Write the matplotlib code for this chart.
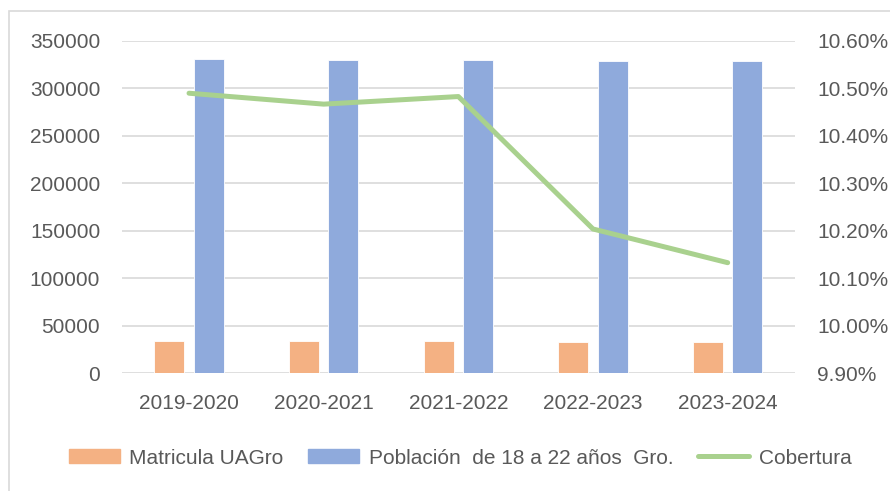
import matplotlib
matplotlib.use("Agg")
import matplotlib.pyplot as plt
import matplotlib.patches as mpatches
from matplotlib.ticker import FuncFormatter, MultipleLocator
import numpy as np

categories = ["2019-2020", "2020-2021", "2021-2022", "2022-2023", "2023-2024"]
matricula = [34000, 34000, 33700, 33000, 32700]
poblacion = [331000, 330000, 329500, 329000, 329000]
cobertura = [10.490, 10.467, 10.483, 10.204, 10.133]

label_mat = "Matricula UAGro"
label_pob = "Población  de 18 a 22 años  Gro."
label_cob = "Cobertura"

c_orange = "#F4B183"
c_blue = "#8FAADC"
c_green = "#A9D18E"
c_grid = "#D9D9D9"
c_text = "#595959"

plt.rcParams['font.family'] = ['Liberation Sans', 'DejaVu Sans']
fs = 15.0

fig = plt.figure(figsize=(8.9, 4.91), dpi=100)
ax = fig.add_axes([121.7/890, 1-373.3/491, (795-121.7)/890, (373.3-41)/491])
ax2 = ax.twinx()

x = np.arange(len(categories))
w = 0.2225
ax.bar(x - 0.147, matricula, width=w, color=c_orange, edgecolor="white", linewidth=0.6, zorder=3, label=label_mat)
ax.bar(x + 0.145, poblacion, width=w, color=c_blue, edgecolor="white", linewidth=0.6, zorder=3, label=label_pob)
ln, = ax2.plot(x, cobertura, color=c_green, linewidth=3.6, solid_capstyle="round",
               solid_joinstyle="round", zorder=4, label=label_cob)

ax.set_xlim(-0.5, len(categories) - 0.5)
ax.set_ylim(0, 350000)
ax.yaxis.set_major_locator(MultipleLocator(50000))
ax2.set_ylim(9.9, 10.6)
ax2.set_yticks([9.9, 10.0, 10.1, 10.2, 10.3, 10.4, 10.5, 10.6])
ax2.yaxis.set_major_formatter(FuncFormatter(lambda v, p: f"{v:.2f}%"))

ax.set_xticks(x)
ax.set_xticklabels(categories)
ax.grid(axis="y", color=c_grid, linewidth=1.2, zorder=0)
ax.set_axisbelow(True)

for a in (ax, ax2):
    for s in a.spines.values():
        s.set_visible(False)
ax.tick_params(axis="both", length=0, labelsize=fs, colors=c_text)
ax.tick_params(axis="y", pad=15.5)
ax.tick_params(axis="x", pad=15)
ax2.tick_params(axis="y", length=0, labelsize=fs, colors=c_text, pad=16)

ax.set_zorder(ax2.get_zorder() - 1)
ax.patch.set_visible(False)
ax2.patch.set_visible(False)
ax2.set_zorder(2)

handles = [mpatches.Patch(color=c_orange, label=label_mat),
           mpatches.Patch(color=c_blue, label=label_pob), ln]
leg = fig.legend(handles=handles, loc="center", bbox_to_anchor=(0.5169, 1-458/491), ncol=3,
                 frameon=False, fontsize=fs, handlelength=2.45, handleheight=0.65,
                 handletextpad=0.45, columnspacing=1.2, borderpad=0)
for t in leg.get_texts():
    t.set_color(c_text)

# outer chart frame
frame = mpatches.Rectangle((8.5/890, -0.1), 1.0, 1 - 11/491 + 0.1, transform=fig.transFigure,
                           fill=False, edgecolor=c_grid, linewidth=1.2, clip_on=False)
fig.patches.append(frame)

fig.savefig("out.png", dpi=100)
